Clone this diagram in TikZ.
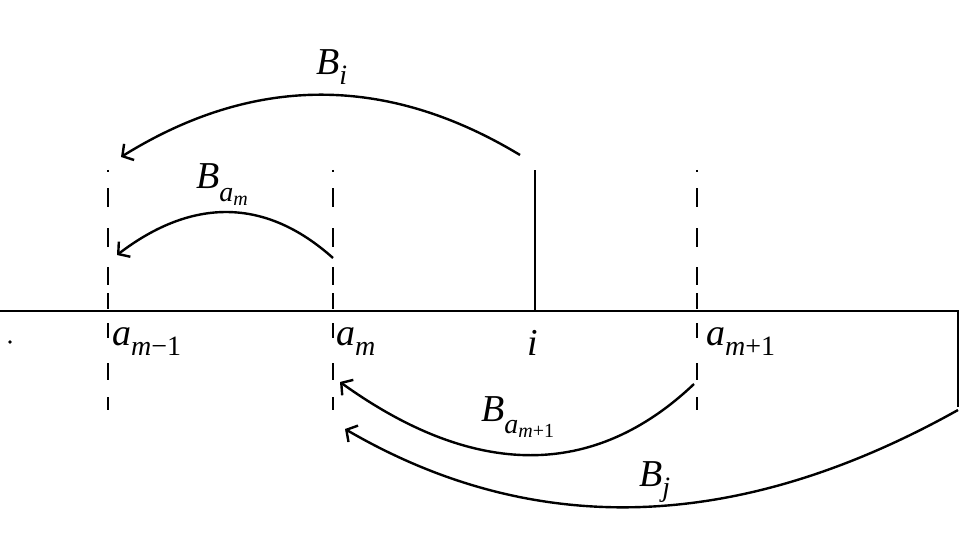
\documentclass[tikz,border=0pt]{standalone}
\usepackage{fontspec}
\setmainfont{Liberation Serif}
\usetikzlibrary{arrows.meta}
\newcommand{\lbl}{\fontsize{38}{40}\selectfont}
\newcommand{\sbs}[2]{\raisebox{-#1pt}{\fontsize{28}{30}\selectfont #2}}
\newcommand{\ssbs}[1]{\raisebox{-4pt}{\fontsize{20}{21}\selectfont #1}}
\begin{document}
\begin{tikzpicture}[x=1pt,y=-1pt,
  axisline/.style={line width=2.9pt},
  guide/.style={line width=2.3pt, dash pattern=on 2pt off 16pt on 19pt off 21pt on 19pt off 20pt on 18pt off 8pt on 16pt off 14pt on 15pt off 25pt on 17pt off 17pt on 13pt off 20pt},
  bow/.style={line width=2.4pt, -{Straight Barb[length=8pt,width=19pt,line width=2.4pt]}},
  lab/.style={inner sep=0pt, anchor=base west, font=\lbl}]
\useasboundingbox (0,0) rectangle (960,540);
% axis
\coordinate (axL) at (0,311);
\coordinate (axR) at (958,311);
\coordinate (axRb) at (958,407);
\draw[axisline] (axL) -- (axR) -- (axRb);
% guides
\foreach \n/\x in {g1/108,g2/333,g3/697}{
  \coordinate (\n top) at (\x,170);
  \coordinate (\n bot) at (\x,410);
  \draw[guide] (\n top) -- (\n bot);
}
\coordinate (itop) at (535,170);
\coordinate (imid) at (535,311);
\draw[line width=2.3pt] (imid) -- (itop);
% dot
\fill (10,342) circle (1.8pt);
% labels on axis
\node[lab] (l1) at (112,345) {\textit{a}\sbs{10}{\textit{m}−1}};
\node[lab] (l2) at (336,345) {\textit{a}\sbs{10}{\textit{m}}};
\node[lab] (l3) at (527,355) {\textit{i}};
\node[lab] (l4) at (706,345) {\textit{a}\sbs{10}{\textit{m}+1}};
% arrow labels
\node[lab] (lbi) at (316,75) {\textit{B}\sbs{10}{\textit{i}}};
\node[lab] (lbam) at (196,189) {\textit{B}\sbs{13}{\textit{a}\ssbs{\textit{m}}}};
\node[lab] (lbam1) at (481,421) {\textit{B}\sbs{12}{\textit{a}\ssbs{\textit{m}+1}}};
\node[lab] (lbj) at (639,486) {\textit{B}\sbs{10}{\textit{j}}};
% arrows
\coordinate (biS) at (520,155);
\coordinate (biE) at (121,157);
\draw[bow] (biS) .. controls (386,74) and (253,75) .. (biE);
\coordinate (bamS) at (333,258);
\coordinate (bamE) at (117,255);
\draw[bow] (bamS) .. controls (266,198) and (193,197) .. (bamE);
\coordinate (bam1S) at (694,384);
\coordinate (bam1E) at (340,382);
\draw[bow] (bam1S) .. controls (594,479) and (475,479) .. (bam1E);
\coordinate (bjS) at (958,410);
\coordinate (bjE) at (345,429);
\draw[bow] (bjS) .. controls (738,533) and (534,539) .. (bjE);
\end{tikzpicture}
\end{document}
